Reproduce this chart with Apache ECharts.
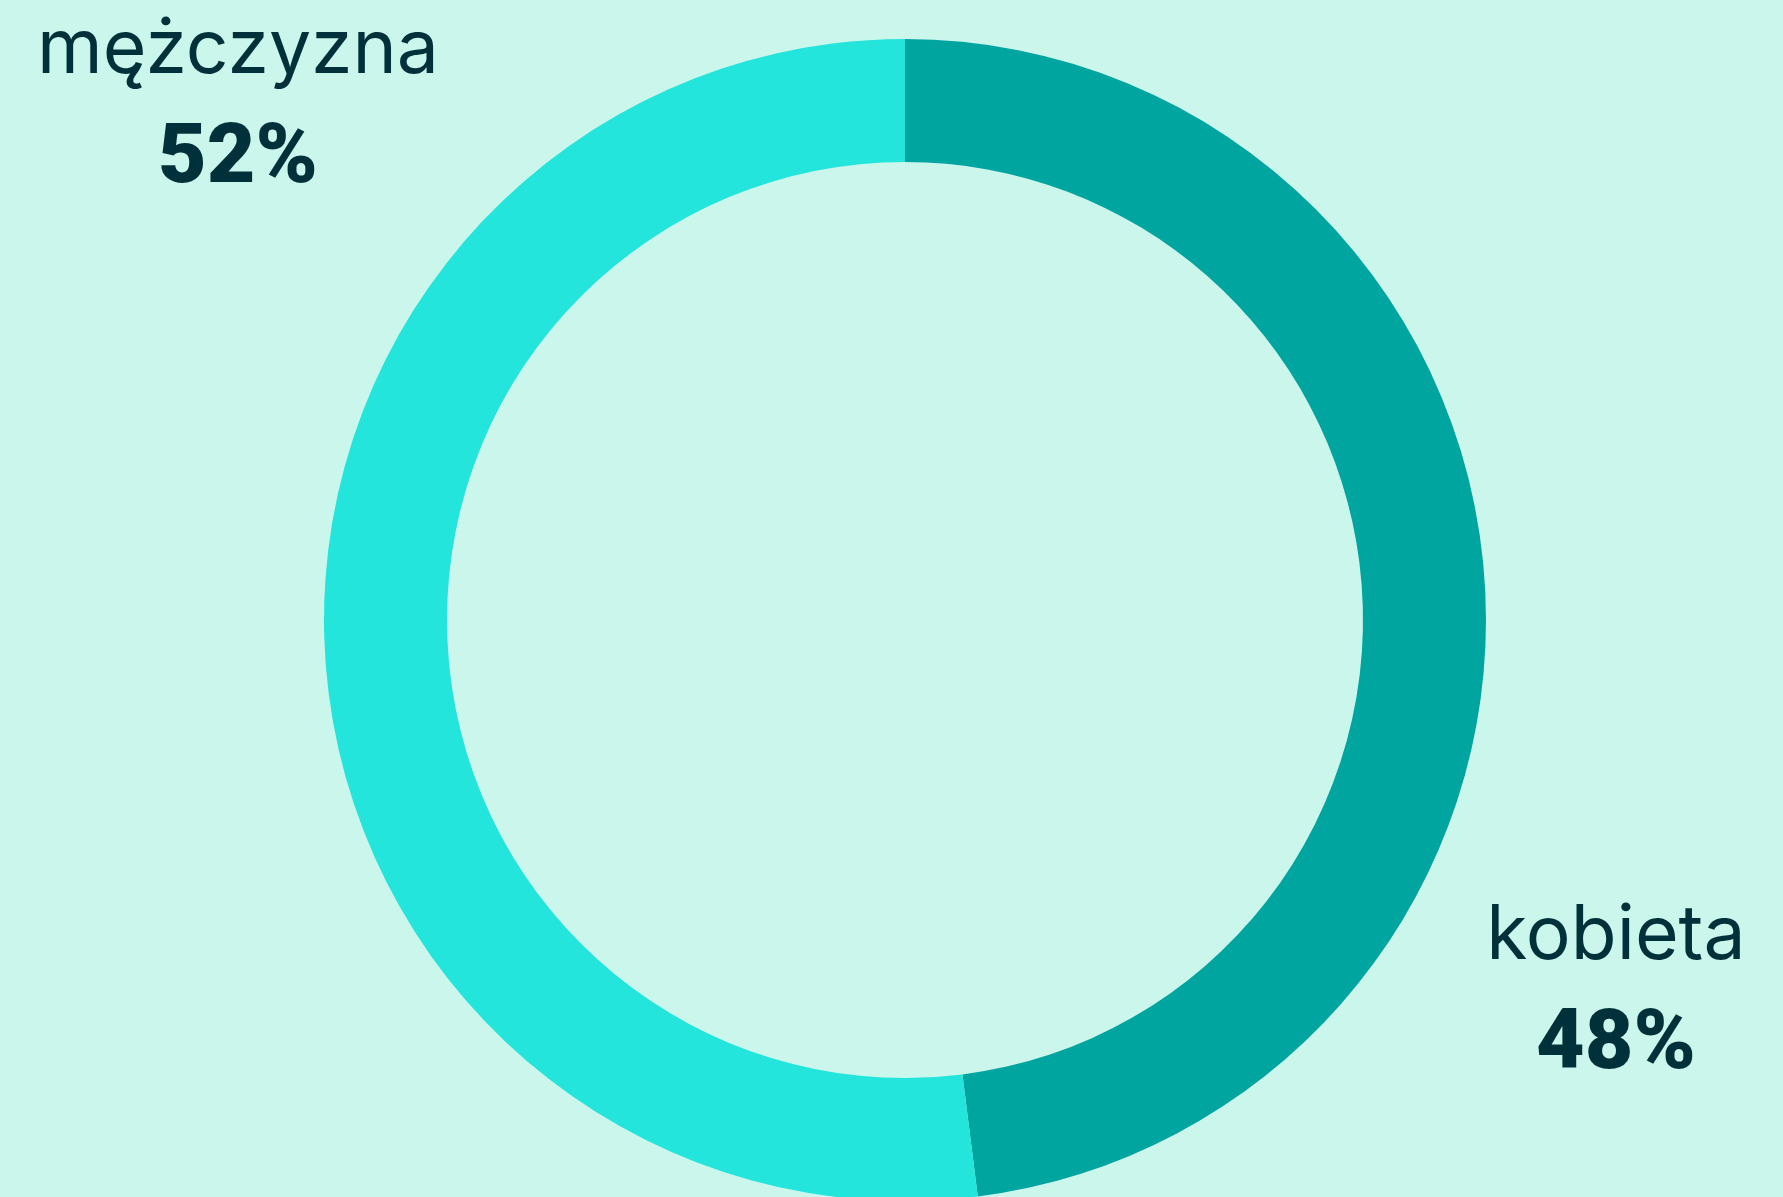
<!DOCTYPE html>
<html>
<head>
<meta charset="utf-8">
<script src="https://cdn.jsdelivr.net/npm/echarts@6/dist/echarts.min.js"></script>
<style>
  html, body { margin: 0; padding: 0; background: #cbf6ec; }
  #chart { width: 1783px; height: 1197px; }
</style>
</head>
<body>
<div id="chart"></div>
<script>
// dane: płeć respondentów (%)
const categories = ['kobieta', 'mężczyzna']
const values = [48, 52]
const colors = ['#00a59f', '#24e5db']
// pozycje etykiet (środek bloku tekstu)
const labelPos = [[1616, 995], [238, 109]]

const myChart = echarts.init(document.getElementById('chart'))

const option = {
    backgroundColor: '#cbf6ec',
    animation: false,
    series: [{
        type: 'pie',
        center: [905, 620],
        radius: [458, 581],
        startAngle: 90,
        clockwise: true,
        silent: true,
        data: categories.map((name, i) => ({
            name: name,
            value: values[i],
            itemStyle: { color: colors[i] }
        })),
        label: {
            show: true,
            position: 'outside',
            overflow: 'none',
            width: 600,
            formatter: p => `{name|${p.name}}\n{pct|${p.value}%}`,
            rich: {
                name: {
                    fontFamily: 'Inter',
                    fontSize: 75,
                    fontWeight: 400,
                    color: '#00313a',
                    lineHeight: 104,
                    align: 'center'
                },
                pct: {
                    fontFamily: 'Roboto',
                    fontSize: 84,
                    fontWeight: 900,
                    color: '#00313a',
                    lineHeight: 118,
                    align: 'center'
                }
            }
        },
        labelLine: { show: false },
        labelLayout: function (params) {
            const pos = labelPos[params.dataIndex]
            return { x: pos[0], y: pos[1], align: 'center', verticalAlign: 'middle' }
        }
    }]
}

myChart.setOption(option)
</script>
</body>
</html>
